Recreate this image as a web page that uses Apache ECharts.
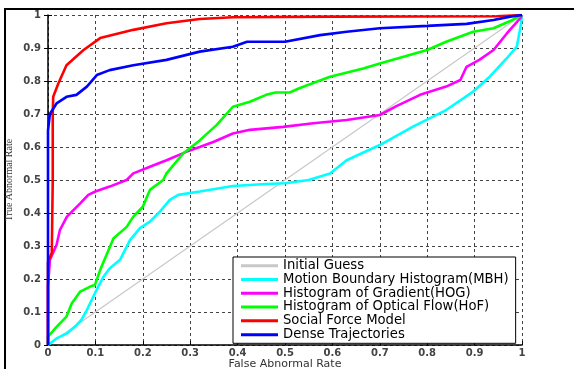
<!DOCTYPE html>
<html>
<head>
<meta charset="utf-8">
<script src="https://cdn.jsdelivr.net/npm/echarts@6/dist/echarts.min.js"></script>
<style>
  html, body { margin: 0; padding: 0; background: #fff; }
  #chart { width: 574px; height: 369px; }
</style>
</head>
<body>
<div id="chart"></div>
<script>
// ROC curves, [false rate, true rate]
const seriesNames = [
  'Initial Guess',
  'Motion Boundary Histogram(MBH)',
  'Histogram of Gradient(HOG)',
  'Histogram of Optical Flow(HoF)',
  'Social Force Model',
  'Dense Trajectories'
]
const seriesColors = ['#c8c8c8', '#00ffff', '#ff00ff', '#00ff00', '#ff0000', '#0000ff']

const initialGuess = [[0, 0], [1, 1]]

const mbh = [
  [0, 0], [0.005, 0.005], [0.018, 0.02], [0.04, 0.035], [0.06, 0.06], [0.07, 0.075],
  [0.082, 0.106], [0.099, 0.157], [0.117, 0.207], [0.13, 0.232], [0.152, 0.258],
  [0.173, 0.318], [0.194, 0.354], [0.215, 0.374], [0.236, 0.404], [0.257, 0.44],
  [0.275, 0.455], [0.32, 0.465], [0.39, 0.482], [0.46, 0.488], [0.5, 0.49],
  [0.55, 0.5], [0.595, 0.52], [0.63, 0.56], [0.7, 0.606], [0.77, 0.662],
  [0.84, 0.712], [0.897, 0.768], [0.932, 0.813], [0.968, 0.869], [0.989, 0.904],
  [0.997, 0.965], [1, 1]
]

const hog = [
  [0, 0], [0, 0.177], [0.004, 0.258], [0.018, 0.303], [0.025, 0.348], [0.04, 0.389],
  [0.068, 0.429], [0.085, 0.455], [0.1, 0.465], [0.13, 0.48], [0.166, 0.5],
  [0.18, 0.52], [0.215, 0.54], [0.25, 0.56], [0.293, 0.586], [0.32, 0.6],
  [0.35, 0.616], [0.39, 0.641], [0.426, 0.652], [0.496, 0.661], [0.56, 0.672],
  [0.63, 0.682], [0.7, 0.697], [0.735, 0.724], [0.785, 0.758], [0.84, 0.783],
  [0.87, 0.803], [0.883, 0.843], [0.91, 0.864], [0.94, 0.894], [0.968, 0.944],
  [0.996, 0.99], [1, 1]
]

const hof = [
  [0, 0], [0, 0.025], [0.018, 0.055], [0.039, 0.086], [0.05, 0.126], [0.068, 0.162],
  [0.089, 0.177], [0.099, 0.182], [0.11, 0.227], [0.138, 0.323], [0.166, 0.358],
  [0.18, 0.389], [0.2, 0.419], [0.215, 0.47], [0.243, 0.5], [0.25, 0.52],
  [0.285, 0.58], [0.32, 0.62], [0.356, 0.667], [0.39, 0.722], [0.426, 0.737],
  [0.46, 0.758], [0.48, 0.765], [0.51, 0.765], [0.53, 0.778], [0.595, 0.813],
  [0.665, 0.838], [0.7, 0.853], [0.8, 0.894], [0.84, 0.919], [0.897, 0.949],
  [0.94, 0.96], [0.98, 0.985], [1, 1]
]

const socialForce = [
  [0, 0], [0, 0.25], [0.008, 0.28], [0.01, 0.5], [0.01, 0.7], [0.011, 0.752],
  [0.022, 0.793], [0.039, 0.848], [0.075, 0.894], [0.11, 0.93], [0.18, 0.955],
  [0.25, 0.975], [0.32, 0.988], [0.39, 0.993], [0.6, 0.995], [0.946, 0.996], [1, 1]
]

const denseTraj = [
  [0, 0], [0, 0.65], [0.004, 0.7], [0.018, 0.732], [0.039, 0.752], [0.06, 0.758],
  [0.082, 0.783], [0.103, 0.818], [0.13, 0.833], [0.18, 0.848], [0.25, 0.864],
  [0.32, 0.889], [0.39, 0.904], [0.42, 0.919], [0.5, 0.919], [0.574, 0.939],
  [0.63, 0.949], [0.7, 0.96], [0.8, 0.967], [0.883, 0.973], [0.94, 0.985],
  [0.975, 0.995], [1, 1]
]

const seriesData = [initialGuess, mbh, hog, hof, socialForce, denseTraj]

const chart = echarts.init(document.getElementById('chart'))

const tickLabel = {
  fontFamily: 'DejaVu Sans',
  fontSize: 10,
  fontWeight: 'bold',
  color: '#444',
  formatter: v => (v === 0 || v === 1 ? String(v) : v.toFixed(1))
}
const gridLine = { show: true, lineStyle: { color: '#444', type: [3, 3], width: 1 } }

chart.setOption({
  animation: false,
  backgroundColor: '#fff',
  graphic: [{
    type: 'rect',
    shape: { x: 5, y: 9, width: 620, height: 420 },
    style: { fill: 'none', stroke: '#000', lineWidth: 2 },
    silent: true
  }],
  grid: { left: 48, right: 52, top: 15, bottom: 24, outerBoundsMode: 'none', containLabel: false },
  legend: {
    orient: 'vertical',
    left: 233,
    top: 257,
    data: seriesNames,
    icon: 'rect',
    itemWidth: 37,
    itemHeight: 3,
    itemGap: 0.5,
    padding: [2, 7, 2, 8],
    backgroundColor: '#fff',
    borderColor: '#000',
    borderWidth: 1,
    textStyle: { fontFamily: 'DejaVu Sans', fontSize: 13.2, color: '#000', lineHeight: 13.3 }
  },
  xAxis: {
    type: 'value',
    min: 0,
    max: 1,
    interval: 0.1,
    name: 'False Abnormal Rate',
    nameLocation: 'middle',
    nameGap: 14,
    nameMoveOverlap: false,
    nameTextStyle: { fontFamily: 'DejaVu Sans', fontSize: 11, color: '#333', verticalAlign: 'top' },
    axisLine: { show: true, onZero: false, lineStyle: { color: '#000', width: 1.5 } },
    axisTick: { show: true, inside: true, length: 4, lineStyle: { color: '#000' } },
    axisLabel: { ...tickLabel, margin: 3 },
    splitLine: gridLine
  },
  yAxis: [{
    type: 'value',
    min: 0,
    max: 1,
    interval: 0.1,
    name: 'True Abnormal Rate',
    nameLocation: 'middle',
    nameGap: 34,
    nameMoveOverlap: false,
    nameTextStyle: { fontFamily: 'Liberation Sans Narrow', fontSize: 10, color: '#333' },
    axisLine: { show: true, onZero: false, lineStyle: { color: '#000', width: 1.5 } },
    axisTick: { show: true, inside: true, length: 4, lineStyle: { color: '#000' } },
    axisLabel: { ...tickLabel, margin: 7 },
    splitLine: gridLine
  }, {
    type: 'value',
    position: 'right',
    min: 0,
    max: 1,
    interval: 0.1,
    axisLine: { show: false },
    axisTick: { show: true, inside: true, length: 4, lineStyle: { color: '#000' } },
    axisLabel: { show: false },
    splitLine: { show: false }
  }],
  series: seriesNames.map((name, i) => ({
    name,
    type: 'line',
    yAxisIndex: 0,
    data: seriesData[i],
    showSymbol: false,
    color: seriesColors[i],
    lineStyle: { color: seriesColors[i], width: i === 0 ? 1.2 : 2.6 },
    z: 2 + i
  }))
})
</script>
</body>
</html>
